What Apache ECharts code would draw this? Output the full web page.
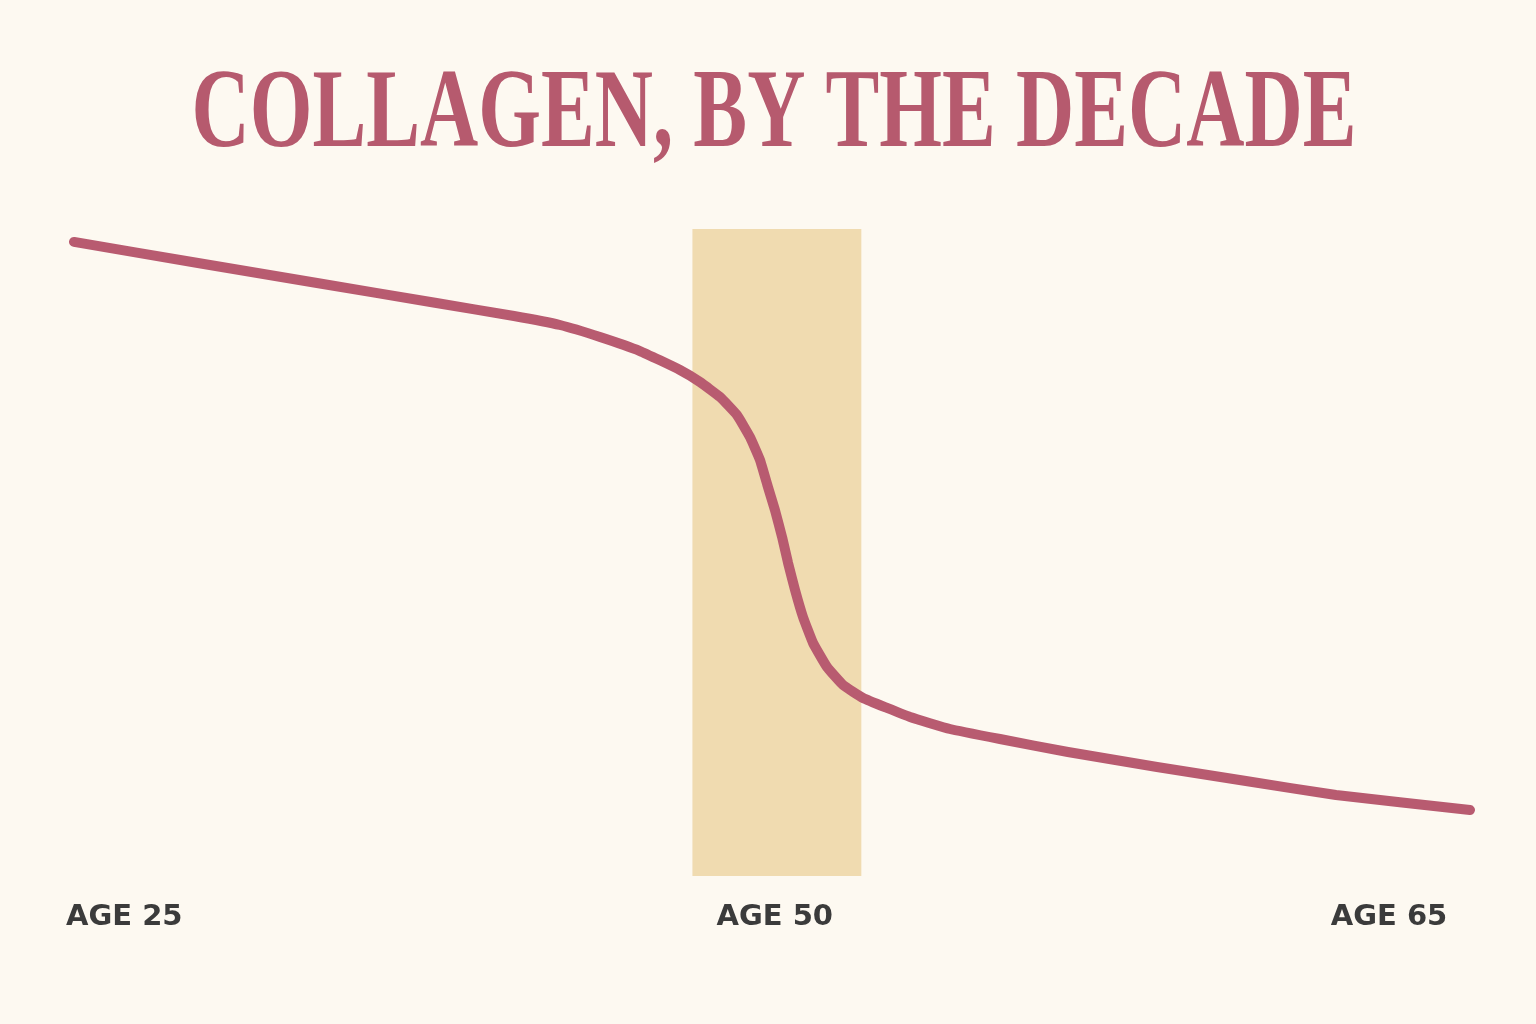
<!DOCTYPE html>
<html lang="en">
<head>
  <meta charset="UTF-8">
  <title>Collagen, by the decade</title>
  <script src="https://cdn.jsdelivr.net/npm/echarts@6/dist/echarts.min.js"></script>
  <style>
    html, body { margin: 0; padding: 0; background: #fdf9f1; }
    #main { width: 1536px; height: 1024px; }
  </style>
</head>
<body>
  <div id="main"></div>
  <script>
    // position along the chart (0 = left end, 100 = right end) and collagen level (0-100)
    var curveX = [0, 8.88, 17.41, 25.86, 31.52, 34.81, 37.68, 40.54, 43.41, 44.84, 46.28, 47.49,
                  48.42, 49.14, 49.71, 50.21, 50.72, 51.15, 51.65, 52.22, 52.94, 53.94, 55.09,
                  56.52, 58.24, 59.89, 62.75, 66.33, 71.20, 77.58, 83.95, 90.40, 100];
    var curveY = [98.0, 94.75, 91.65, 88.6, 86.55, 85.16, 83.31, 81.14, 78.21, 76.35, 74.03, 71.25,
                  67.85, 64.30, 60.12, 56.57, 52.40, 48.38, 44.20, 40.03, 36.01, 32.30, 29.52,
                  27.51, 25.97, 24.57, 22.72, 21.17, 19.17, 16.85, 14.68, 12.52, 10.20];

    // tick labels and where they sit
    var ageLabels = ['AGE 25', 'AGE 50', 'AGE 65'];
    var ageLabelPos = [3.6, 50.2, 94.2];

    // highlighted band around age 50
    var bandRange = [44.3, 56.4];

    var myChart = echarts.init(document.getElementById('main'));

    var points = curveX.map(function (x, i) { return [x, curveY[i]]; });

    var option = {
      backgroundColor: '#fdf9f1',
      animation: false,
      grid: { left: 74, right: 66, top: 229, bottom: 148 },
      xAxis: {
        type: 'value',
        min: 0,
        max: 100,
        axisLine: { show: false },
        axisTick: { show: false },
        splitLine: { show: false },
        axisLabel: {
          customValues: ageLabelPos,
          margin: 27,
          color: '#3b3b3b',
          fontFamily: 'DejaVu Sans',
          fontWeight: 'bold',
          fontSize: 29,
          formatter: function (v) {
            var i = ageLabelPos.indexOf(v);
            return i >= 0 ? ageLabels[i] : '';
          }
        }
      },
      yAxis: {
        type: 'value',
        min: 0,
        max: 100,
        show: false
      },
      graphic: [
        {
          type: 'text',
          x: 774,
          y: 117,
          scaleX: 0.72,
          style: {
            text: 'COLLAGEN, BY THE DECADE',
            font: 'bold 112px "Liberation Serif", serif',
            fill: '#b65a6e',
            align: 'center',
            verticalAlign: 'middle'
          }
        }
      ],
      series: [
        {
          type: 'line',
          data: points,
          smooth: 0.12,
          symbol: 'none',
          lineStyle: { color: '#b85b70', width: 10, cap: 'round', join: 'round' },
          markArea: {
            silent: true,
            itemStyle: { color: '#f0dbb0' },
            data: [[{ xAxis: bandRange[0] }, { xAxis: bandRange[1] }]]
          },
          z: 3
        }
      ]
    };

    myChart.setOption(option);
  </script>
</body>
</html>
